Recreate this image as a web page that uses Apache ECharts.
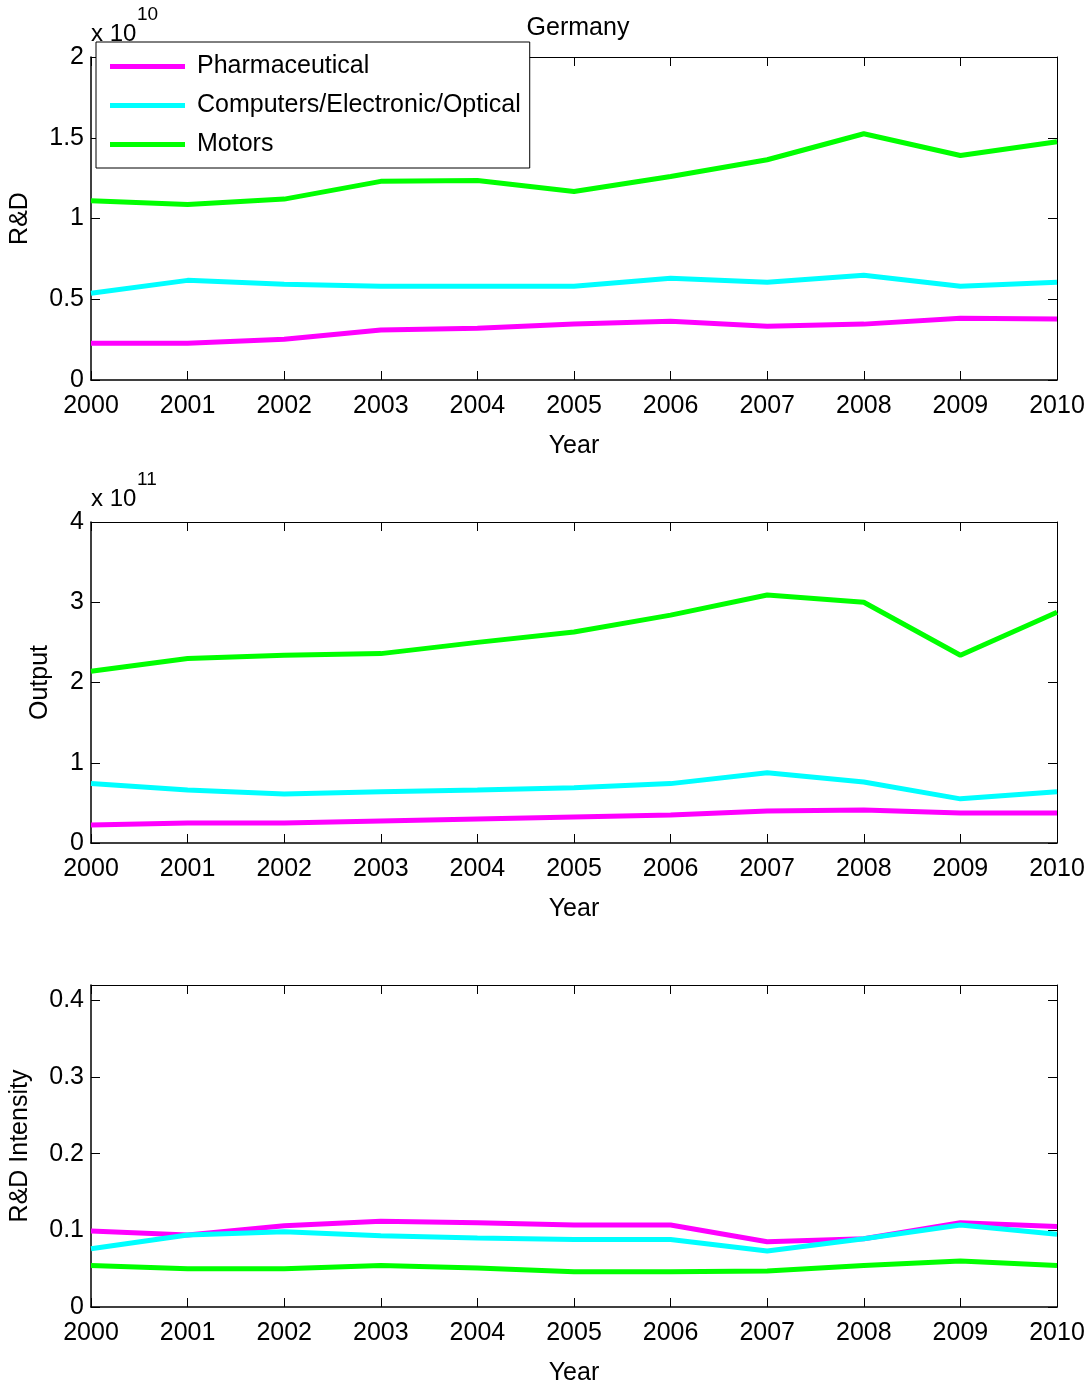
<!DOCTYPE html>
<html>
<head>
<meta charset="utf-8">
<script src="https://cdn.jsdelivr.net/npm/echarts@6/dist/echarts.min.js"></script>
<style>
  html, body { margin: 0; padding: 0; background: #fff; }
  #main { width: 1092px; height: 1386px; }
</style>
</head>
<body>
<div id="main"></div>
<script>
// data
var years = [2000, 2001, 2002, 2003, 2004, 2005, 2006, 2007, 2008, 2009, 2010];
var sectors = ['Pharmaceutical', 'Computers/Electronic/Optical', 'Motors'];

// R&D, units of 1e10
var rdPharma = [0.228, 0.228, 0.253, 0.309, 0.321, 0.346, 0.364, 0.333, 0.346, 0.383, 0.377];
var rdComp   = [0.537, 0.617, 0.593, 0.580, 0.580, 0.580, 0.630, 0.605, 0.648, 0.580, 0.605];
var rdMotors = [1.110, 1.087, 1.120, 1.230, 1.235, 1.167, 1.260, 1.364, 1.525, 1.390, 1.475];

// Output, units of 1e11
var outPharma = [0.225, 0.25, 0.25, 0.275, 0.30, 0.325, 0.35, 0.40, 0.41, 0.375, 0.375];
var outComp   = [0.74, 0.66, 0.61, 0.64, 0.66, 0.69, 0.74, 0.875, 0.76, 0.55, 0.64];
var outMotors = [2.14, 2.30, 2.34, 2.36, 2.50, 2.63, 2.84, 3.09, 3.00, 2.34, 2.875];

// R&D intensity
var intPharma = [0.099, 0.094, 0.106, 0.112, 0.110, 0.107, 0.107, 0.085, 0.089, 0.110, 0.105];
var intComp   = [0.076, 0.094, 0.098, 0.093, 0.090, 0.088, 0.088, 0.073, 0.089, 0.107, 0.095];
var intMotors = [0.054, 0.050, 0.050, 0.054, 0.051, 0.046, 0.046, 0.047, 0.054, 0.060, 0.054];

var colors = ['#ff00ff', '#00ffff', '#00ff00'];
var font = "'Liberation Sans', Arial, Helvetica, sans-serif";
var fs = 25;

var chart = echarts.init(document.getElementById('main'));

var grids = [
  { left: 91, right: 35, top: 57, height: 323, outerBoundsMode: 'none' },
  { left: 91, right: 35, top: 522, height: 321, outerBoundsMode: 'none' },
  { left: 91, right: 35, top: 985, height: 322, outerBoundsMode: 'none' }
];
var yNames = ['R&D', 'Output', 'R&D Intensity'];
var yMax = [2, 4, 0.42];
var yInterval = [0.5, 1, 0.1];
var yNameGap = [58, 38, 58];
var blocks = [
  [rdPharma, rdComp, rdMotors],
  [outPharma, outComp, outMotors],
  [intPharma, intComp, intMotors]
];

var tick = { show: true, inside: true, length: 9, lineStyle: { color: '#000', width: 1 } };

var xAxes = [], yAxes = [], series = [];
grids.forEach(function (g, i) {
  xAxes.push({
    type: 'value', gridIndex: i, min: 2000, max: 2010, interval: 1,
    name: 'Year', nameLocation: 'middle', nameGap: 54,
    nameTextStyle: { fontSize: fs, color: '#000', fontFamily: font },
    axisLine: { show: true, onZero: false, lineStyle: { color: '#000', width: 1.5 } },
    axisTick: tick,
    axisLabel: { fontSize: fs, color: '#000', fontFamily: font, margin: 14,
      formatter: function (v) { return String(v); } },
    splitLine: { show: false }
  });
  xAxes.push({
    type: 'value', gridIndex: i, position: 'top', min: 2000, max: 2010, interval: 1,
    axisLine: { show: true, onZero: false, lineStyle: { color: '#000', width: 1 } },
    axisTick: tick, axisLabel: { show: false }, splitLine: { show: false }
  });
  yAxes.push({
    type: 'value', gridIndex: i, min: 0, max: yMax[i], interval: yInterval[i],
    name: yNames[i], nameLocation: 'middle', nameGap: yNameGap[i],
    nameTextStyle: { fontSize: fs, color: '#000', fontFamily: font },
    axisLine: { show: true, onZero: false, lineStyle: { color: '#000', width: 1.5 } },
    axisTick: tick,
    axisLabel: { fontSize: fs, color: '#000', fontFamily: font, margin: 7, showMaxLabel: i !== 2 },
    splitLine: { show: false }
  });
  yAxes.push({
    type: 'value', gridIndex: i, position: 'right', min: 0, max: yMax[i], interval: yInterval[i],
    axisLine: { show: true, onZero: false, lineStyle: { color: '#000', width: 1 } },
    axisTick: tick, axisLabel: { show: false }, splitLine: { show: false }
  });
  blocks[i].forEach(function (arr, k) {
    series.push({
      name: sectors[k], type: 'line',
      xAxisIndex: i * 2, yAxisIndex: i * 2,
      data: years.map(function (y, j) { return [y, arr[j]]; }),
      symbol: 'none', color: colors[k],
      lineStyle: { width: 5, color: colors[k] },
      z: 3
    });
  });
});

// "x 10^n" multiplier above an axis
function expo(x, y, power) {
  return [
    { type: 'text', left: x, top: y, style: { text: 'x 10', fontSize: 24, fontFamily: font, fill: '#000' } },
    { type: 'text', left: x + 46, top: y - 17, style: { text: power, fontSize: 19, fontFamily: font, fill: '#000' } }
  ];
}

var option = {
  animation: false,
  backgroundColor: '#fff',
  textStyle: { fontFamily: font },
  title: {
    text: 'Germany', left: 573, top: 11, textAlign: 'center',
    textStyle: { fontSize: fs, fontWeight: 'normal', color: '#000', fontFamily: font }
  },
  grid: grids,
  xAxis: xAxes,
  yAxis: yAxes,
  legend: {
    data: sectors, orient: 'vertical', left: 96, top: 42,
    backgroundColor: '#fff', borderColor: '#000', borderWidth: 1,
    padding: [12, 9, 11, 14], itemGap: 14,
    icon: 'rect', itemWidth: 75, itemHeight: 5,
    textStyle: { fontSize: fs, color: '#000', fontFamily: font, padding: [0, 0, 0, 7] },
    z: 10
  },
  graphic: expo(91, 22, '10').concat(expo(91, 487, '11')),
  series: series
};

chart.setOption(option);
</script>
</body>
</html>
